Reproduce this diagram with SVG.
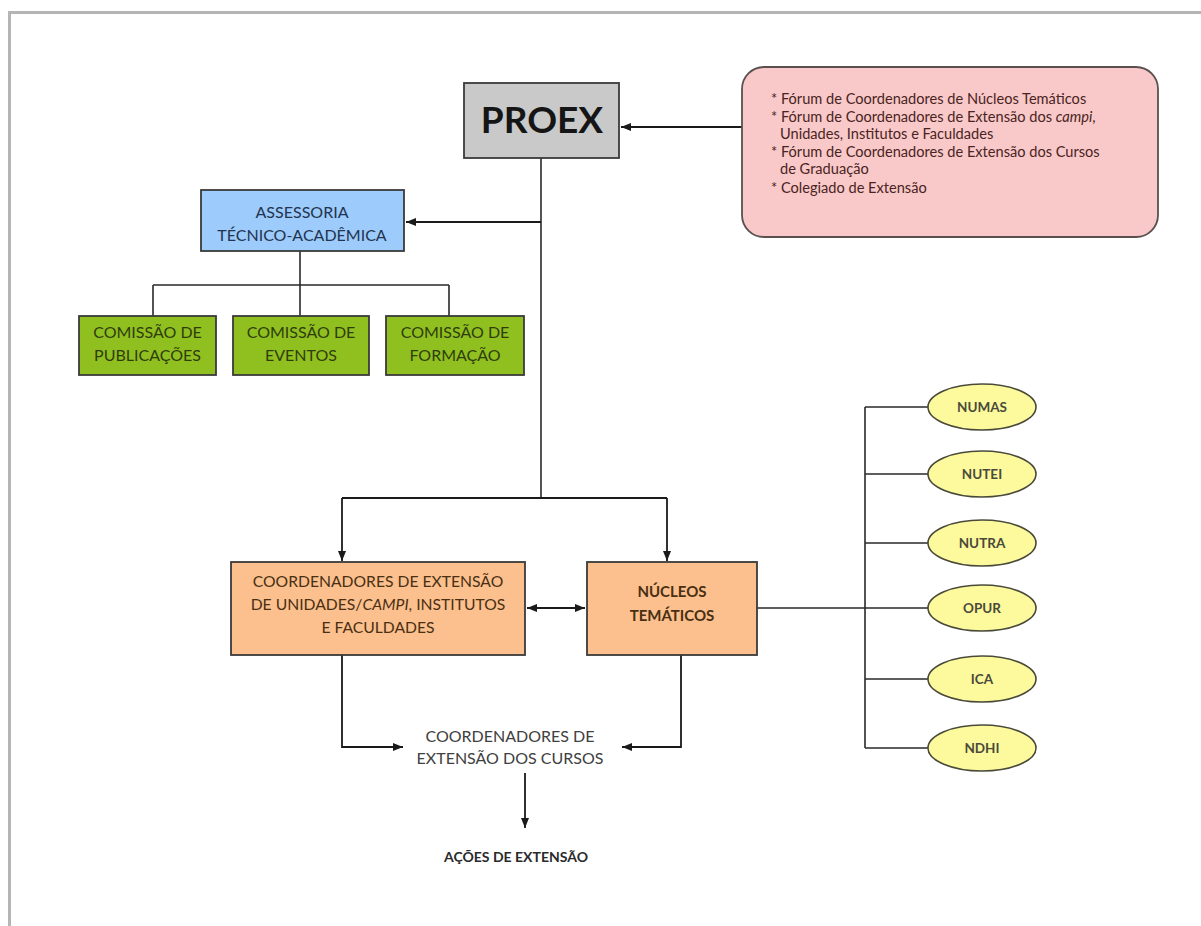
<svg xmlns="http://www.w3.org/2000/svg" width="1201" height="926" viewBox="0 0 1201 926">
<defs>
<marker id="ah" markerWidth="10" markerHeight="8" refX="10" refY="4" orient="auto-start-reverse" markerUnits="userSpaceOnUse">
<path d="M0,0 L10,4 L0,8 Z" fill="#1a1a1a"/>
</marker>
<style>
.ln{stroke:#2a2a2a;stroke-width:1.6;fill:none}
.arr{stroke:#1a1a1a;stroke-width:1.8;fill:none}
.bx{stroke:#3a3a3a;stroke-width:1.8}
.t{font-family:Lato,"Open Sans","Liberation Sans",sans-serif;text-anchor:middle}
.ell{fill:#fdfa9e;stroke:#4a4a3a;stroke-width:1.6}
.et{font-family:Lato,"Open Sans","Liberation Sans",sans-serif;font-size:13.5px;font-weight:bold;fill:#4a4a3a;text-anchor:middle}
.gt{font-family:Lato,"Open Sans","Liberation Sans",sans-serif;font-size:16px;fill:#2f3d0c;text-anchor:middle}
.ft{font-family:Lato,"Open Sans","Liberation Sans",sans-serif;font-size:14.6px;fill:#4a2323}
</style>
</defs>
<rect width="1201" height="926" fill="#ffffff"/>
<path d="M9.5,926 V12.5 H1201" fill="none" stroke="#b5b5b5" stroke-width="3"/>

<g id="connectors">
<path class="arr" d="M742,127 H621" marker-end="url(#ah)"/>
<path class="ln" d="M541,158 V498"/>
<path class="arr" d="M541,222 H406" marker-end="url(#ah)"/>
<path class="ln" d="M300,251 V285 M153,285 H449 M153,285 V316 M300,285 V316 M449,285 V316"/>
<path class="arr" d="M342,498 H667"/>
<path class="arr" d="M342,498 V561" marker-end="url(#ah)"/>
<path class="arr" d="M667,498 V561" marker-end="url(#ah)"/>
<path class="arr" d="M527,608 H585" marker-start="url(#ah)" marker-end="url(#ah)"/>
<path class="ln" d="M757,608 H928 M865,407 V748 M865,407 H928 M865,474 H928 M865,543 H928 M865,679 H928 M865,748 H928"/>
<path class="arr" d="M342,655 V747 H403" marker-end="url(#ah)"/>
<path class="arr" d="M681,655 V747 H622" marker-end="url(#ah)"/>
<path class="arr" d="M525,773 V828" marker-end="url(#ah)"/>
</g>

<g id="proex">
<rect class="bx" x="464" y="83" width="155" height="75" fill="#c9c9c9"/>
<text class="t" x="542" y="133" font-size="37" font-weight="bold" fill="#151515">PROEX</text>
</g>

<g id="foruns">
<rect x="742" y="67" width="416" height="170" rx="22" ry="22" fill="#f8c9c8" stroke="#5a5050" stroke-width="1.8"/>
<text class="ft" x="771" y="104">* Fórum de Coordenadores de Núcleos Temáticos</text>
<text class="ft" x="771" y="122">* Fórum de Coordenadores de Extensão dos <tspan font-style="italic">campi</tspan>,</text>
<text class="ft" x="780" y="139">Unidades, Institutos e Faculdades</text>
<text class="ft" x="771" y="157">* Fórum de Coordenadores de Extensão dos Cursos</text>
<text class="ft" x="780" y="174">de Graduação</text>
<text class="ft" x="771" y="193">* Colegiado de Extensão</text>
</g>

<g id="assessoria">
<rect class="bx" x="201" y="190" width="203" height="61" fill="#9dcbfb"/>
<text class="t" x="302" y="218" font-size="16" fill="#22344f">ASSESSORIA</text>
<text class="t" x="302" y="241" font-size="16" fill="#22344f">TÉCNICO-ACADÊMICA</text>
</g>

<g id="comissao-publicacoes">
<rect class="bx" x="79" y="316" width="137" height="59" fill="#90c020"/>
<text class="gt" x="147.5" y="338">COMISSÃO DE</text>
<text class="gt" x="147.5" y="361">PUBLICAÇÕES</text>
</g>
<g id="comissao-eventos">
<rect class="bx" x="233" y="316" width="136" height="59" fill="#90c020"/>
<text class="gt" x="301" y="338">COMISSÃO DE</text>
<text class="gt" x="301" y="361">EVENTOS</text>
</g>
<g id="comissao-formacao">
<rect class="bx" x="386" y="316" width="138" height="59" fill="#90c020"/>
<text class="gt" x="455" y="338">COMISSÃO DE</text>
<text class="gt" x="455" y="361">FORMAÇÃO</text>
</g>

<g id="coordenadores-unidades">
<rect class="bx" x="231" y="562" width="294" height="93" fill="#fbc08e"/>
<text class="t" x="378" y="587" font-size="15.7" fill="#4a2f12">COORDENADORES DE EXTENSÃO</text>
<text class="t" x="378" y="610" font-size="15.7" fill="#4a2f12">DE UNIDADES/<tspan font-style="italic">CAMPI</tspan>, INSTITUTOS</text>
<text class="t" x="378" y="633" font-size="15.7" fill="#4a2f12">E FACULDADES</text>
</g>

<g id="nucleos-tematicos">
<rect class="bx" x="587" y="562" width="170" height="93" fill="#fbc08e"/>
<text class="t" x="672" y="597" font-size="15" font-weight="bold" fill="#4a2f12">NÚCLEOS</text>
<text class="t" x="672" y="621" font-size="15" font-weight="bold" fill="#4a2f12">TEMÁTICOS</text>
</g>

<g id="numas"><ellipse class="ell" cx="982" cy="407" rx="54" ry="23"/><text class="et" x="982" y="412">NUMAS</text></g>
<g id="nutei"><ellipse class="ell" cx="982" cy="474" rx="54" ry="23"/><text class="et" x="982" y="479">NUTEI</text></g>
<g id="nutra"><ellipse class="ell" cx="982" cy="543" rx="54" ry="23"/><text class="et" x="982" y="548">NUTRA</text></g>
<g id="opur"><ellipse class="ell" cx="982" cy="608" rx="54" ry="23"/><text class="et" x="982" y="613">OPUR</text></g>
<g id="ica"><ellipse class="ell" cx="982" cy="679" rx="54" ry="23"/><text class="et" x="982" y="684">ICA</text></g>
<g id="ndhi"><ellipse class="ell" cx="982" cy="748" rx="54" ry="23"/><text class="et" x="982" y="753">NDHI</text></g>

<g id="coordenadores-cursos">
<text class="t" x="510" y="742" font-size="16" fill="#404040">COORDENADORES DE</text>
<text class="t" x="510" y="764" font-size="16" fill="#404040">EXTENSÃO DOS CURSOS</text>
</g>

<g id="acoes">
<text class="t" x="516" y="862" font-size="14" font-weight="bold" fill="#2a2a2a">AÇÕES DE EXTENSÃO</text>
</g>
</svg>
